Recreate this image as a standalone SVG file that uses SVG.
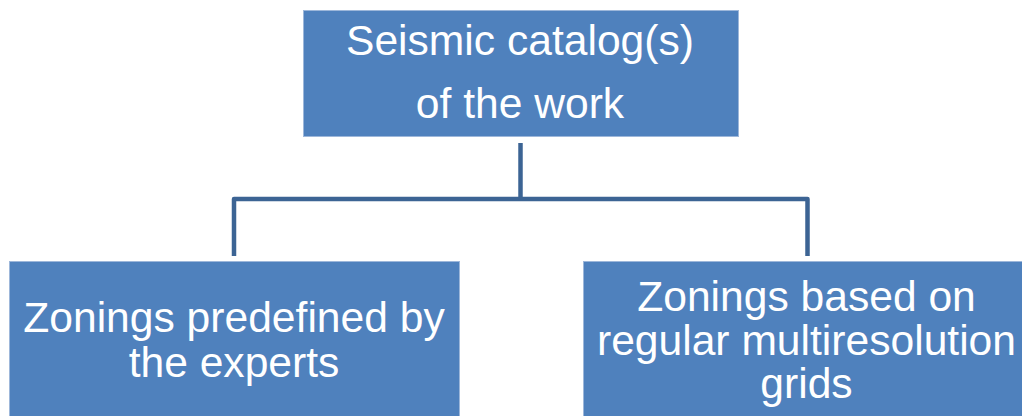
<svg xmlns="http://www.w3.org/2000/svg" width="1022" height="416" viewBox="0 0 1022 416">
<style>
.box{fill:#4f81bd;stroke:#9db7da;stroke-width:1}
.lbl{font-family:"Liberation Sans",Arial,sans-serif;font-size:42.6px;fill:#ffffff;text-anchor:middle}
.conn{fill:none;stroke:#3c6494;stroke-width:4.5;stroke-linejoin:round}
</style>
<rect width="1022" height="416" fill="#ffffff"/>
<g id="connectors">
<path class="conn" d="M520.5,143 V199"/>
<path class="conn" d="M234,256 V199 H807.5 V256"/>
</g>
<g id="node-catalog">
<rect class="box" x="303.5" y="10.5" width="435" height="126"/>
<text class="lbl" x="520" y="55">Seismic catalog(s)</text>
<text class="lbl" x="520" y="118">of the work</text>
</g>
<g id="node-experts">
<rect class="box" x="9.5" y="261.5" width="450" height="160"/>
<text class="lbl" x="234" y="332">Zonings predefined by</text>
<text class="lbl" x="234" y="377">the experts</text>
</g>
<g id="node-grids">
<rect class="box" x="583.5" y="261.5" width="450" height="160"/>
<text class="lbl" x="806.5" y="311">Zonings based on</text>
<text class="lbl" x="806.5" y="355">regular multiresolution</text>
<text class="lbl" x="806.5" y="398">grids</text>
</g>
</svg>
